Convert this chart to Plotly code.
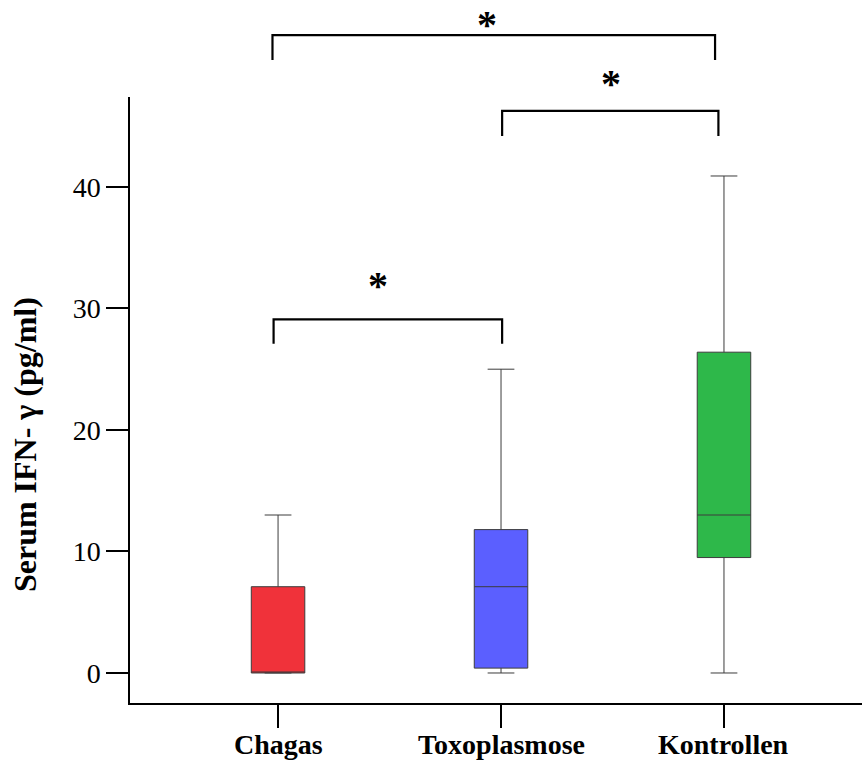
import plotly.graph_objects as go

# ---- data ----
categories = ["Chagas", "Toxoplasmose", "Kontrollen"]
mins = [0.0, 0.0, 0.0]
q1s = [0.0, 0.4, 9.5]
medians = [0.0, 7.1, 13.0]
q3s = [7.1, 11.8, 26.4]
maxs = [13.0, 25.0, 40.9]
fill_colors = ["#F0323A", "#5B5FFF", "#2EB84A"]

y_ticks = [0, 10, 20, 30, 40]
y_range = [-2.47, 47.4]
y_title = "Serum IFN- γ (pg/ml)"

# significance brackets: (left x, right x, height, leg bottom, star height, star x)
brackets = [
    (-0.02, 1.005, 29.1, 27.1, 31.85, 0.45),
    (1.005, 1.975, 46.25, 44.2, 48.5, 1.495),
    (-0.025, 1.96, 52.5, 50.45, 53.4, 0.935),
]

FONT = "Liberation Serif, Times New Roman, serif"

fig = go.Figure()
for i, cat in enumerate(categories):
    fig.add_trace(go.Box(
        x=[i],
        q1=[q1s[i]], median=[medians[i]], q3=[q3s[i]],
        lowerfence=[mins[i]], upperfence=[maxs[i]],
        fillcolor=fill_colors[i],
        line=dict(color="#3c3c3c", width=1),
        width=0.24,
        whiskerwidth=0.5,
        boxpoints=False,
        showlegend=False,
        hoverinfo="skip",
    ))

def to_paper(v):
    return (v - y_range[0]) / (y_range[1] - y_range[0])

for (xl, xr, h, leg, sh, sx) in brackets:
    fig.add_shape(type="path",
                  path=f"M {xl},{to_paper(leg)} L {xl},{to_paper(h)} L {xr},{to_paper(h)} L {xr},{to_paper(leg)}",
                  xref="x", yref="paper",
                  line=dict(color="black", width=2.2))
    fig.add_annotation(x=sx, y=to_paper(sh), xref="x", yref="paper",
                       text="<b>*</b>", showarrow=False,
                       font=dict(family=FONT, size=40, color="black"),
                       yanchor="middle")

# category labels as annotations (placed closer to the tick ends)
for i, cat in enumerate(categories):
    fig.add_annotation(x=i, y=-0.0693, xref="x", yref="paper",
                       text=f"<b>{cat}</b>", showarrow=False,
                       xanchor="center", yanchor="middle",
                       font=dict(family=FONT, size=28, color="black"))

# y-axis title as rotated annotation (sits lower than the axis centre)
fig.add_annotation(x=-0.1434, y=0.4257, xref="paper", yref="paper",
                   text=f"<b>{y_title}</b>", showarrow=False, textangle=-90,
                   xanchor="center", yanchor="middle",
                   font=dict(family=FONT, size=32, color="black"))

fig.update_layout(
    width=863, height=764,
    margin=dict(l=130, r=1, t=97, b=61),
    paper_bgcolor="white", plot_bgcolor="white",
    font=dict(family=FONT, color="black"),
    xaxis=dict(
        tickmode="array", tickvals=[0, 1, 2], ticktext=categories,
        showticklabels=False,
        range=[-0.664, 2.619], automargin=False,
        showline=True, linecolor="black", linewidth=1.5,
        ticks="outside", ticklen=23, tickwidth=1.5, tickcolor="black",
        showgrid=False, zeroline=False,
    ),
    yaxis=dict(
        range=y_range, automargin=False,
        tickmode="array", tickvals=y_ticks,
        showline=True, linecolor="black", linewidth=1.5,
        ticks="outside", ticklen=22, tickwidth=1.5, tickcolor="black",
        tickfont=dict(family=FONT, size=28, color="black"),
        showgrid=False, zeroline=False,
    ),
)

fig.write_html("out.html",
               config={"displayModeBar": False},
               post_script="document.body.style.margin='0';document.body.style.overflow='hidden';")
